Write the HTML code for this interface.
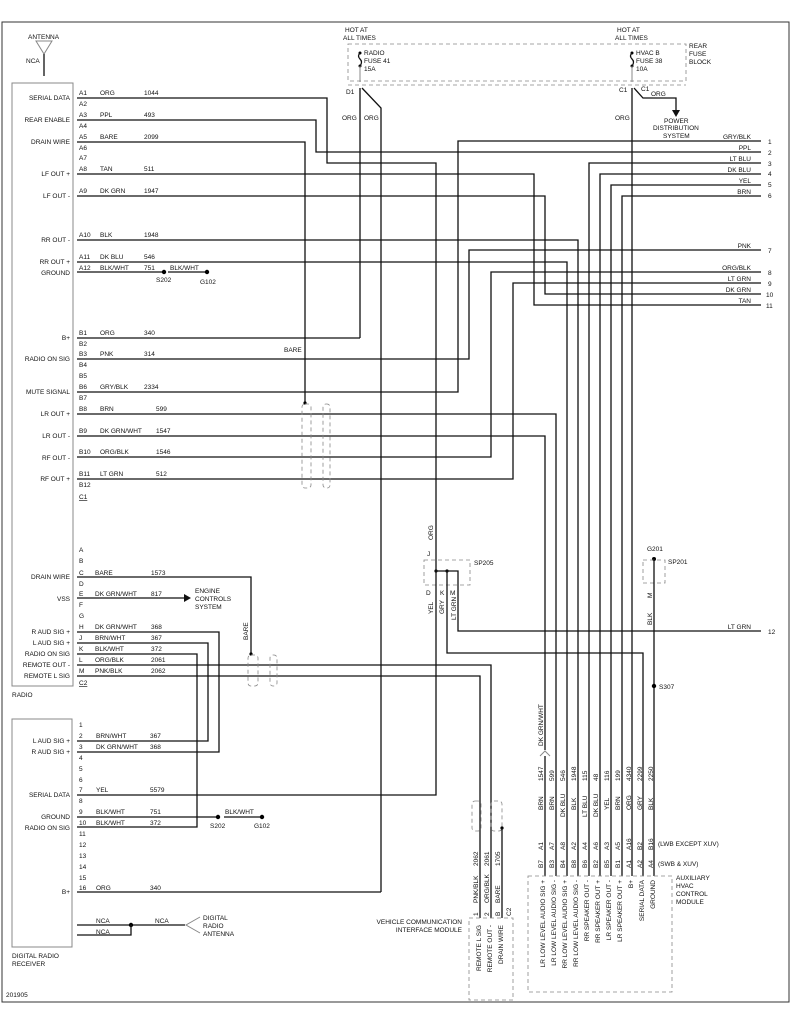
<!DOCTYPE html>
<html><head><meta charset="utf-8"><style>
html,body{margin:0;padding:0;background:#fff}
svg{display:block}
text{font-family:"Liberation Sans",sans-serif;font-size:6.5px;fill:#111}
.w{fill:none;stroke:#111;stroke-width:1.3}
.g{fill:none;stroke:#888;stroke-width:1}
.d{fill:none;stroke:#888;stroke-width:0.8;stroke-dasharray:4,3}
.r{text-anchor:end}
</style></head><body>
<svg width="791" height="1024" viewBox="0 0 791 1024">
<rect x="2" y="22" width="787" height="980" fill="none" stroke="#333" stroke-width="1"/>
<!-- antenna -->
<text x="28" y="39">ANTENNA</text>
<path class="g" d="M36,41 L52,41 L44,54 Z"/>
<line class="w" x1="44" y1="54" x2="44" y2="76"/>
<text x="26" y="63">NCA</text>
<!-- radio box -->
<rect class="g" x="12" y="83" width="61" height="603"/>
<text x="12" y="697">RADIO</text>
<!-- fuse block -->
<rect class="d" x="348" y="44" width="338" height="37"/>
<line class="d" x1="348" y1="85" x2="686" y2="85"/>
<text x="345" y="32">HOT AT</text><text x="343" y="40">ALL TIMES</text>
<text x="617" y="32">HOT AT</text><text x="615" y="40">ALL TIMES</text>
<text x="364" y="55">RADIO</text><text x="364" y="63">FUSE 41</text><text x="364" y="71">15A</text>
<text x="636" y="55">HVAC B</text><text x="636" y="63">FUSE 38</text><text x="636" y="71">10A</text>
<text x="689" y="48">REAR</text><text x="689" y="56">FUSE</text><text x="689" y="64">BLOCK</text>
<circle cx="360" cy="53" r="1.5"/><circle cx="360" cy="66" r="1.5"/>
<path class="w" d="M360,53 q-3,3 0,6 q3,3 0,7" stroke-width="0.9"/>
<circle cx="632" cy="53" r="1.5"/><circle cx="632" cy="66" r="1.5"/>
<path class="w" d="M632,53 q-3,3 0,6 q3,3 0,7" stroke-width="0.9"/>
<line class="g" x1="360" y1="66" x2="360" y2="82"/><line class="g" x1="632" y1="66" x2="632" y2="82"/>
<text x="346" y="94">D1</text><text x="619" y="92">C1</text><text x="641" y="91">C1</text>
<text x="342" y="120">ORG</text><text x="364" y="120">ORG</text>
<text x="615" y="120">ORG</text><text x="651" y="96">ORG</text>
<path class="w" d="M360,88 L360,338"/>
<path class="w" d="M362,88 L381,108 L381,892"/>
<path class="w" d="M632,88 L632,876"/>
<path class="w" d="M634,88 L643,98 L676,98 L676,110"/>
<path d="M672,110 L680,110 L676,117 Z" fill="#111"/>
<text x="664" y="123">POWER</text><text x="653" y="130">DISTRIBUTION</text><text x="663" y="138">SYSTEM</text>
<!-- left pin names -->
<text class="r" x="70" y="100">SERIAL DATA</text>
<text class="r" x="70" y="122">REAR ENABLE</text>
<text class="r" x="70" y="144">DRAIN WIRE</text>
<text class="r" x="70" y="176">LF OUT +</text>
<text class="r" x="70" y="198">LF OUT -</text>
<text class="r" x="70" y="242">RR OUT -</text>
<text class="r" x="70" y="264">RR OUT +</text>
<text class="r" x="70" y="275">GROUND</text>
<text class="r" x="70" y="340">B+</text>
<text class="r" x="70" y="361">RADIO ON SIG</text>
<text class="r" x="70" y="394">MUTE SIGNAL</text>
<text class="r" x="70" y="416">LR OUT +</text>
<text class="r" x="70" y="438">LR OUT -</text>
<text class="r" x="70" y="460">RF OUT -</text>
<text class="r" x="70" y="481">RF OUT +</text>
<text class="r" x="70" y="579">DRAIN WIRE</text>
<text class="r" x="70" y="601">VSS</text>
<text class="r" x="70" y="634">R AUD SIG +</text>
<text class="r" x="70" y="645">L AUD SIG +</text>
<text class="r" x="70" y="656">RADIO ON SIG</text>
<text class="r" x="70" y="667">REMOTE OUT -</text>
<text class="r" x="70" y="678">REMOTE L SIG</text>
<!-- pin ids -->
<text x="79" y="95">A1</text><text x="79" y="106">A2</text><text x="79" y="117">A3</text><text x="79" y="128">A4</text>
<text x="79" y="139">A5</text><text x="79" y="150">A6</text><text x="79" y="160">A7</text><text x="79" y="171">A8</text>
<text x="79" y="193">A9</text><text x="79" y="237">A10</text><text x="79" y="259">A11</text><text x="79" y="270">A12</text>
<text x="79" y="335">B1</text><text x="79" y="346">B2</text><text x="79" y="356">B3</text><text x="79" y="367">B4</text>
<text x="79" y="378">B5</text><text x="79" y="389">B6</text><text x="79" y="400">B7</text><text x="79" y="411">B8</text>
<text x="79" y="433">B9</text><text x="79" y="454">B10</text><text x="79" y="476">B11</text><text x="79" y="487">B12</text>
<text x="79" y="499" text-decoration="underline">C1</text>
<text x="79" y="552">A</text><text x="79" y="563">B</text><text x="79" y="575">C</text><text x="79" y="586">D</text>
<text x="79" y="596">E</text><text x="79" y="607">F</text><text x="79" y="618">G</text><text x="79" y="629">H</text>
<text x="79" y="640">J</text><text x="79" y="651">K</text><text x="79" y="662">L</text><text x="79" y="673">M</text>
<text x="79" y="685" text-decoration="underline">C2</text>
<!-- wire labels -->
<text x="100" y="95">ORG</text><text x="144" y="95">1044</text>
<text x="100" y="117">PPL</text><text x="144" y="117">493</text>
<text x="100" y="139">BARE</text><text x="144" y="139">2099</text>
<text x="100" y="171">TAN</text><text x="144" y="171">511</text>
<text x="100" y="193">DK GRN</text><text x="144" y="193">1947</text>
<text x="100" y="237">BLK</text><text x="144" y="237">1948</text>
<text x="100" y="259">DK BLU</text><text x="144" y="259">546</text>
<text x="100" y="270">BLK/WHT</text><text x="144" y="270">751</text>
<text x="170" y="270">BLK/WHT</text><text x="156" y="282">S202</text><text x="200" y="284">G102</text>
<text x="100" y="335">ORG</text><text x="144" y="335">340</text>
<text x="100" y="356">PNK</text><text x="144" y="356">314</text>
<text x="100" y="389">GRY/BLK</text><text x="144" y="389">2334</text>
<text x="100" y="411">BRN</text><text x="156" y="411">599</text>
<text x="100" y="433">DK GRN/WHT</text><text x="156" y="433">1547</text>
<text x="100" y="454">ORG/BLK</text><text x="156" y="454">1546</text>
<text x="100" y="476">LT GRN</text><text x="156" y="476">512</text>
<text x="284" y="352">BARE</text>
<text x="95" y="575">BARE</text><text x="151" y="575">1573</text>
<text x="95" y="596">DK GRN/WHT</text><text x="151" y="596">817</text>
<text x="95" y="629">DK GRN/WHT</text><text x="151" y="629">368</text>
<text x="95" y="640">BRN/WHT</text><text x="151" y="640">367</text>
<text x="95" y="651">BLK/WHT</text><text x="151" y="651">372</text>
<text x="95" y="662">ORG/BLK</text><text x="151" y="662">2061</text>
<text x="95" y="673">PNK/BLK</text><text x="151" y="673">2062</text>
<text x="195" y="593">ENGINE</text><text x="195" y="601">CONTROLS</text><text x="195" y="609">SYSTEM</text>
<text transform="translate(248,640) rotate(-90)">BARE</text>
<!-- top wires -->
<path class="w" d="M77,98 H327 V163 H436 V555"/>
<path class="w" d="M77,120 H316 V152 H761"/>
<path class="w" d="M77,142 H305 V403"/>
<path class="w" d="M77,174 H534 V305 H761"/>
<path class="w" d="M77,196 H545 V294 H761"/>
<path class="w" d="M77,240 H578 V876"/>
<path class="w" d="M77,262 H567 V876"/>
<path class="w" d="M77,272 H164" stroke-width="1"/><circle cx="164" cy="272" r="2.2"/>
<path class="w" d="M168,272 H205" stroke-width="1"/><circle cx="207" cy="272" r="2.2"/>
<path class="w" d="M77,338 H360"/>
<path class="w" d="M77,359 H469 V250 H761"/>
<path class="w" d="M77,392 H458 V141 H761"/>
<path class="w" d="M77,414 H556 V876"/>
<path class="w" d="M77,436 H545 V750"/>
<path class="w" d="M545,756 V876"/>
<path class="w" d="M77,457 H491 V272 H761"/>
<path class="w" d="M77,479 H513 V283 H761"/>
<path class="w" d="M589,876 V163 H761"/>
<path class="w" d="M600,876 V174 H761"/>
<path class="w" d="M611,876 V185 H761"/>
<path class="w" d="M622,876 V196 H761"/>
<circle cx="305" cy="403" r="1.6"/>
<rect class="d" x="302" y="404" width="9" height="84" rx="3"/>
<rect class="d" x="323" y="404" width="7" height="84" rx="3"/>
<!-- right labels -->
<text class="r" x="751" y="139">GRY/BLK</text><text x="768" y="144">1</text>
<text class="r" x="751" y="150">PPL</text><text x="768" y="155">2</text>
<text class="r" x="751" y="161">LT BLU</text><text x="768" y="166">3</text>
<text class="r" x="751" y="172">DK BLU</text><text x="768" y="176">4</text>
<text class="r" x="751" y="183">YEL</text><text x="768" y="187">5</text>
<text class="r" x="751" y="194">BRN</text><text x="768" y="198">6</text>
<text class="r" x="751" y="248">PNK</text><text x="768" y="253">7</text>
<text class="r" x="751" y="270">ORG/BLK</text><text x="768" y="275">8</text>
<text class="r" x="751" y="281">LT GRN</text><text x="768" y="286">9</text>
<text class="r" x="751" y="292">DK GRN</text><text x="766" y="297">10</text>
<text class="r" x="751" y="303">TAN</text><text x="766" y="308">11</text>
<text class="r" x="751" y="629">LT GRN</text><text x="768" y="634">12</text>
<!-- SP205 -->
<text transform="translate(433,540) rotate(-90)">ORG</text>
<text x="427" y="556">J</text>
<rect class="d" x="424" y="560" width="46" height="25"/>
<text x="474" y="565">SP205</text>
<circle cx="436" cy="571" r="1.6"/><circle cx="447" cy="571" r="1.6"/>
<path class="w" d="M436,571 H458 V588" stroke-width="1"/>
<text x="426" y="595">D</text><text x="440" y="595">K</text><text x="450" y="595">M</text>
<text transform="translate(433,614) rotate(-90)">YEL</text>
<text transform="translate(444,614) rotate(-90)">GRY</text>
<text transform="translate(456,620) rotate(-90)">LT GRN</text>
<path class="w" d="M436,555 V795 H77"/>
<path class="w" d="M447,571 V653 H643 V876"/>
<path class="w" d="M458,588 V631 H761"/>
<!-- SP201 -->
<text x="647" y="551">G201</text>
<circle cx="654" cy="559" r="2"/>
<rect class="d" x="643" y="560" width="22" height="23"/>
<text x="668" y="564">SP201</text>
<text transform="translate(652,598) rotate(-90)">M</text>
<text transform="translate(652,625) rotate(-90)">BLK</text>
<path class="w" d="M654,559 V876"/>
<circle cx="654" cy="686" r="2.2"/><text x="659" y="689">S307</text>
<!-- C2 wires -->
<path class="w" d="M77,577 H251 V654"/><circle cx="251" cy="654" r="1.6"/>
<path class="w" d="M77,598 H185"/><path d="M184,594 L191,598 L184,602 Z" fill="#111"/>
<path class="w" d="M77,632 H219 V752 H77"/>
<path class="w" d="M77,643 H208 V741 H77"/>
<path class="w" d="M77,654 H197 V827 H77"/>
<path class="w" d="M77,665 H491 V918" stroke="#555"/>
<path class="w" d="M77,676 H480 V918" stroke="#555"/>
<rect class="d" x="248" y="655" width="10" height="31" rx="3"/>
<rect class="d" x="270" y="655" width="7" height="31" rx="3"/>
<!-- DRR -->
<rect class="g" x="12" y="719" width="60" height="228"/>
<text x="12" y="958">DIGITAL RADIO</text><text x="12" y="966">RECEIVER</text>
<text x="6" y="997">201905</text>
<text class="r" x="70" y="743">L AUD SIG +</text>
<text class="r" x="70" y="754">R AUD SIG +</text>
<text class="r" x="70" y="797">SERIAL DATA</text>
<text class="r" x="70" y="819">GROUND</text>
<text class="r" x="70" y="830">RADIO ON SIG</text>
<text class="r" x="70" y="894">B+</text>
<text x="79" y="727">1</text><text x="79" y="738">2</text><text x="79" y="749">3</text><text x="79" y="760">4</text>
<text x="79" y="771">5</text><text x="79" y="782">6</text><text x="79" y="792">7</text><text x="79" y="803">8</text>
<text x="79" y="814">9</text><text x="79" y="825">10</text><text x="79" y="836">11</text><text x="79" y="847">12</text>
<text x="79" y="858">13</text><text x="79" y="869">14</text><text x="79" y="880">15</text><text x="79" y="890">16</text>
<text x="96" y="738">BRN/WHT</text><text x="150" y="738">367</text>
<text x="96" y="749">DK GRN/WHT</text><text x="150" y="749">368</text>
<text x="96" y="792">YEL</text><text x="150" y="792">5579</text>
<text x="96" y="814">BLK/WHT</text><text x="150" y="814">751</text>
<text x="96" y="825">BLK/WHT</text><text x="150" y="825">372</text>
<text x="96" y="890">ORG</text><text x="150" y="890">340</text>
<path class="w" d="M77,817 H216" stroke-width="1"/><circle cx="218" cy="817" r="2.2"/>
<path class="w" d="M224,817 H260" stroke-width="1"/><circle cx="262" cy="817" r="2.2"/>
<text x="225" y="814">BLK/WHT</text><text x="210" y="828">S202</text><text x="254" y="828">G102</text>
<path class="w" d="M77,892 H381"/>
<text x="96" y="923">NCA</text><text x="96" y="934">NCA</text><text x="155" y="923">NCA</text>
<path class="w" d="M77,925 H185" stroke-width="1"/><circle cx="131" cy="925" r="2.2"/>
<path class="w" d="M77,935 H131 V925" stroke-width="1"/>
<path class="g" d="M200,917 L186,925 L200,933"/>
<text x="203" y="920">DIGITAL</text><text x="203" y="928">RADIO</text><text x="203" y="936">ANTENNA</text>
<!-- VCIM -->
<rect class="d" x="472" y="801" width="9" height="30" rx="3"/>
<rect class="d" x="491" y="801" width="11" height="30" rx="3"/>
<circle cx="502" cy="828" r="1.6"/>
<path class="w" d="M502,828 V918"/>
<rect class="d" x="469" y="918" width="44" height="82"/>
<text transform="translate(478,916) rotate(-90)">1</text>
<text transform="translate(489,916) rotate(-90)">2</text>
<text transform="translate(500,916) rotate(-90)">B</text>
<text transform="translate(511,916) rotate(-90)">C2</text>
<text transform="translate(478,903) rotate(-90)">PNK/BLK</text>
<text transform="translate(489,903) rotate(-90)">ORG/BLK</text>
<text transform="translate(500,903) rotate(-90)">BARE</text>
<text transform="translate(478,866) rotate(-90)">2062</text>
<text transform="translate(489,866) rotate(-90)">2061</text>
<text transform="translate(500,866) rotate(-90)">1705</text>
<text class="r" transform="translate(481,925) rotate(-90)">REMOTE L SIG</text>
<text class="r" transform="translate(492,925) rotate(-90)">REMOTE OUT -</text>
<text class="r" transform="translate(503,925) rotate(-90)">DRAIN WIRE</text>
<text class="r" x="462" y="924">VEHICLE COMMUNICATION</text>
<text class="r" x="462" y="932">INTERFACE MODULE</text>
<!-- AUX HVAC -->
<path class="g" d="M540,756 L545,751 L550,756"/>
<text transform="translate(543,746) rotate(-90)">DK GRN/WHT</text>
<g>
<text transform="translate(543,781) rotate(-90)">1547</text><text transform="translate(543,810) rotate(-90)">BRN</text><text transform="translate(543,850) rotate(-90)">A1</text><text transform="translate(543,868) rotate(-90)">B7</text>
<text transform="translate(554,781) rotate(-90)">599</text><text transform="translate(554,810) rotate(-90)">BRN</text><text transform="translate(554,850) rotate(-90)">A7</text><text transform="translate(554,868) rotate(-90)">B3</text>
<text transform="translate(565,781) rotate(-90)">546</text><text transform="translate(565,817) rotate(-90)">DK BLU</text><text transform="translate(565,850) rotate(-90)">A8</text><text transform="translate(565,868) rotate(-90)">B4</text>
<text transform="translate(576,781) rotate(-90)">1948</text><text transform="translate(576,810) rotate(-90)">BLK</text><text transform="translate(576,850) rotate(-90)">A2</text><text transform="translate(576,868) rotate(-90)">B8</text>
<text transform="translate(587,781) rotate(-90)">115</text><text transform="translate(587,817) rotate(-90)">LT BLU</text><text transform="translate(587,850) rotate(-90)">A4</text><text transform="translate(587,868) rotate(-90)">B6</text>
<text transform="translate(598,781) rotate(-90)">48</text><text transform="translate(598,817) rotate(-90)">DK BLU</text><text transform="translate(598,850) rotate(-90)">A6</text><text transform="translate(598,868) rotate(-90)">B2</text>
<text transform="translate(609,781) rotate(-90)">116</text><text transform="translate(609,810) rotate(-90)">YEL</text><text transform="translate(609,850) rotate(-90)">A3</text><text transform="translate(609,868) rotate(-90)">B5</text>
<text transform="translate(620,781) rotate(-90)">199</text><text transform="translate(620,810) rotate(-90)">BRN</text><text transform="translate(620,850) rotate(-90)">A5</text><text transform="translate(620,868) rotate(-90)">B1</text>
<text transform="translate(631,781) rotate(-90)">4340</text><text transform="translate(631,810) rotate(-90)">ORG</text><text transform="translate(631,850) rotate(-90)">A16</text><text transform="translate(631,868) rotate(-90)">A1</text>
<text transform="translate(642,781) rotate(-90)">2299</text><text transform="translate(642,810) rotate(-90)">GRY</text><text transform="translate(642,850) rotate(-90)">B2</text><text transform="translate(642,868) rotate(-90)">A2</text>
<text transform="translate(653,781) rotate(-90)">2250</text><text transform="translate(653,810) rotate(-90)">BLK</text><text transform="translate(653,850) rotate(-90)">B16</text><text transform="translate(653,868) rotate(-90)">A4</text>
</g>
<text x="658" y="846">(LWB EXCEPT XUV)</text>
<text x="658" y="866">(SWB &amp; XUV)</text>
<rect class="d" x="528" y="876" width="144" height="116"/>
<text x="676" y="880">AUXILIARY</text><text x="676" y="888">HVAC</text><text x="676" y="896">CONTROL</text><text x="676" y="904">MODULE</text>
<text class="r" transform="translate(545,880) rotate(-90)">LR LOW LEVEL AUDIO SIG +</text>
<text class="r" transform="translate(556,880) rotate(-90)">LR LOW LEVEL AUDIO SIG -</text>
<text class="r" transform="translate(567,880) rotate(-90)">RR LOW LEVEL AUDIO SIG +</text>
<text class="r" transform="translate(578,880) rotate(-90)">RR LOW LEVEL AUDIO SIG -</text>
<text class="r" transform="translate(589,880) rotate(-90)">RR SPEAKER OUT -</text>
<text class="r" transform="translate(600,880) rotate(-90)">RR SPEAKER OUT +</text>
<text class="r" transform="translate(611,880) rotate(-90)">LR SPEAKER OUT -</text>
<text class="r" transform="translate(622,880) rotate(-90)">LR SPEAKER OUT +</text>
<text class="r" transform="translate(633,880) rotate(-90)">B+</text>
<text class="r" transform="translate(644,880) rotate(-90)">SERIAL DATA</text>
<text class="r" transform="translate(655,880) rotate(-90)">GROUND</text>
</svg>
</body></html>
